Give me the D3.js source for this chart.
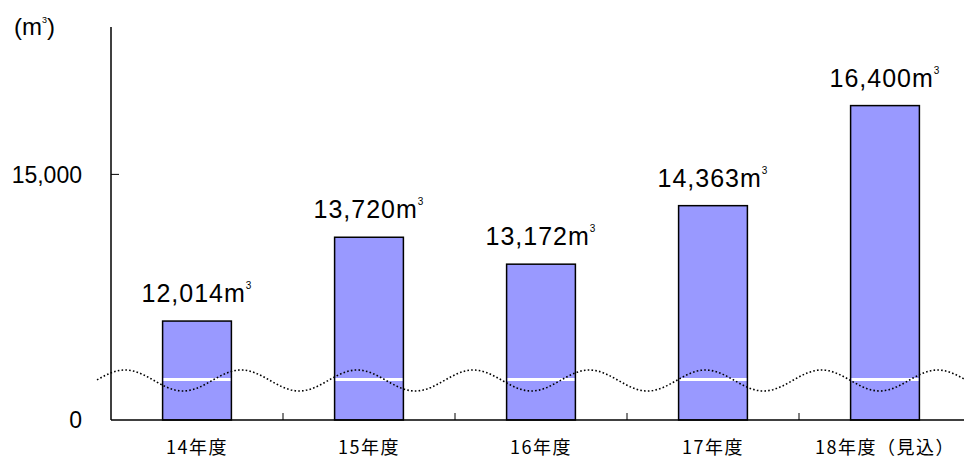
<!DOCTYPE html>
<html>
<head>
<meta charset="utf-8">
<script src="https://cdn.jsdelivr.net/npm/d3@7/dist/d3.min.js"></script>
<style>
  html, body { margin: 0; padding: 0; background: #fff; }
  svg { display: block; }
</style>
</head>
<body>
<svg id="chart" width="964" height="461"></svg>
<script>
// Annual volume by fiscal year (m³)
const categories = ["14年度", "15年度", "16年度", "17年度", "18年度（見込）"];
const values = [12014, 13720, 13172, 14363, 16400];
const valueLabels = ["12,014", "13,720", "13,172", "14,363", "16,400"];
// Value axis is broken: the bottom of the axis stands for 0
const yTicks = [10000, 15000];
const yTickLabels = ["0", "15,000"];

const svg = d3.select("#chart");
const W = 964, H = 461;
const left = 111, baseY = 420, topY = 27;

const x = d3.scaleBand().domain(categories).range([left, left + 172 * categories.length]).paddingInner(0).paddingOuter(0);
const y = d3.scaleLinear().domain([10000, 18000]).range([baseY, topY]);

const barW = x.bandwidth() * 0.4;
const fontNum = "'Liberation Sans', Arial, sans-serif";
const fontJp = "'Noto Sans CJK JP', sans-serif";

// Bars
svg.append("g").selectAll("rect")
  .data(values)
  .join("rect")
  .attr("x", (d, i) => x(categories[i]) + x.bandwidth() / 2 - barW / 2)
  .attr("y", d => y(d))
  .attr("width", barW)
  .attr("height", d => baseY - y(d))
  .attr("fill", "#9999ff")
  .attr("stroke", "#000")
  .attr("stroke-width", 1.5);

// White gap across each bar marking the axis break
const gapY = 378;
svg.append("g").selectAll("rect")
  .data(values)
  .join("rect")
  .attr("x", (d, i) => x(categories[i]) + x.bandwidth() / 2 - barW / 2 + 1)
  .attr("y", gapY)
  .attr("width", barW - 2)
  .attr("height", 3)
  .attr("fill", "#fff");

// Axes lines
svg.append("line")
  .attr("x1", left).attr("x2", left)
  .attr("y1", topY).attr("y2", baseY)
  .attr("stroke", "#000").attr("stroke-width", 1.5);
svg.append("line")
  .attr("x1", left).attr("x2", W)
  .attr("y1", baseY).attr("y2", baseY)
  .attr("stroke", "#000").attr("stroke-width", 1.5);

// Category separators on the baseline
svg.append("g").selectAll("line")
  .data(categories.slice(1))
  .join("line")
  .attr("x1", d => x(d)).attr("x2", d => x(d))
  .attr("y1", baseY).attr("y2", baseY - 7)
  .attr("stroke", "#000").attr("stroke-width", 1);

// Value-axis tick marks and labels
svg.append("g").selectAll("line")
  .data(yTicks.slice(1))
  .join("line")
  .attr("x1", left).attr("x2", left + 8)
  .attr("y1", d => y(d)).attr("y2", d => y(d))
  .attr("stroke", "#000").attr("stroke-width", 1);
svg.append("g").selectAll("text")
  .data(yTicks)
  .join("text")
  .attr("x", 82)
  .attr("y", d => y(d))
  .attr("dy", "0.36em")
  .attr("text-anchor", "end")
  .attr("font-family", fontNum)
  .attr("font-size", 23)
  .attr("fill", "#000")
  .text((d, i) => yTickLabels[i]);

// Unit label
const unit = svg.append("text")
  .attr("x", 14).attr("y", 35)
  .attr("font-family", fontNum)
  .attr("font-size", 24)
  .attr("fill", "#000");
unit.append("tspan").text("(m");
unit.append("tspan").attr("font-size", 9).attr("dy", -12).text("3");
unit.append("tspan").attr("dy", 12).text(")");

// Category labels
svg.append("g").selectAll("text")
  .data(categories)
  .join("text")
  .attr("x", d => x(d) + x.bandwidth() / 2)
  .attr("y", 448)
  .attr("dy", "0.35em")
  .attr("text-anchor", "middle")
  .attr("font-family", fontJp)
  .attr("font-size", 18)
  .attr("letter-spacing", 1.5)
  .attr("fill", "#000")
  .text(d => d);

// Value labels above bars
const vl = svg.append("g").selectAll("text")
  .data(values)
  .join("text")
  .attr("x", (d, i) => x(categories[i]) + x.bandwidth() / 2)
  .attr("y", d => y(d) - 19)
  .attr("text-anchor", "middle")
  .attr("font-family", fontNum)
  .attr("font-size", 25)
  .attr("letter-spacing", 1)
  .attr("fill", "#000");
vl.append("tspan").text((d, i) => valueLabels[i] + "m");
vl.append("tspan").attr("font-size", 10).attr("dy", -13).text("3");

// Wavy dotted break line
const waveMid = 380.5, waveAmp = 10.5, wavePeriod = 116.1, wavePeak = 125;
const waveXs = d3.range(97, W + 2, 2);
const wave = d3.line()
  .x(d => d)
  .y(d => waveMid - waveAmp * Math.cos(2 * Math.PI * (d - wavePeak) / wavePeriod));
svg.append("path")
  .attr("d", wave(waveXs))
  .attr("fill", "none")
  .attr("stroke", "#000")
  .attr("stroke-width", 1.6)
  .attr("stroke-dasharray", "1.6 2.2");
</script>
</body>
</html>
